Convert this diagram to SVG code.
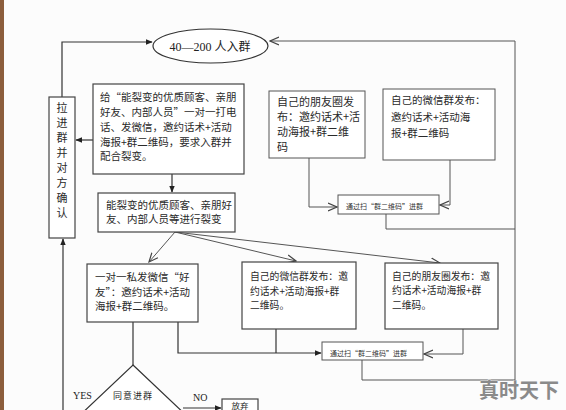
<svg xmlns="http://www.w3.org/2000/svg" width="566" height="410" viewBox="0 0 566 410">
<defs>
<marker id="fa" viewBox="0 0 10 10" refX="9" refY="5" markerWidth="7" markerHeight="7" orient="auto" markerUnits="userSpaceOnUse">
<path d="M0,1 L10,5 L0,9 z" fill="#222"/>
</marker>
<marker id="oa" viewBox="0 0 10 10" refX="9" refY="5" markerWidth="10" markerHeight="10" orient="auto" markerUnits="userSpaceOnUse">
<path d="M0,1 L9,5 L0,9" fill="none" stroke="#444" stroke-width="1.2"/>
</marker>
</defs>
<style>
.bx{fill:#fff;stroke:#444;stroke-width:1.2}
.bt{fill:#fff;stroke:#555;stroke-width:1}
.t{font-family:"Noto Sans CJK SC","Liberation Serif",serif;font-size:10.5px;fill:#2a2a2a}
.ts{font-family:"Noto Sans CJK SC","Liberation Serif",serif;font-size:7px;fill:#333}
.c{fill:none;stroke:#333;stroke-width:1.2}
.cl{fill:none;stroke:#555;stroke-width:1}
.lat{font-family:"Liberation Serif",serif;font-size:10px;fill:#222}
</style>
<rect x="0" y="0" width="566" height="410" fill="#fcfcfc"/>
<rect x="0" y="0" width="4" height="410" fill="#8c5e3c"/>

<g id="connectors">
<polyline class="c" points="62,97 62,42 152,42" marker-end="url(#fa)"/>
<polyline class="cl" points="362,360 362,380 515,380 515,41 270,41" marker-end="url(#oa)"/>
<polyline class="cl" points="386,214 386,229 515,229"/>
<line class="c" x1="93" y1="140" x2="76" y2="140" marker-end="url(#fa)"/>
<line class="c" x1="63" y1="410" x2="63" y2="239" marker-end="url(#fa)"/>
<line class="c" x1="172" y1="174" x2="172" y2="192" marker-end="url(#fa)"/>
<line class="cl" x1="175" y1="232" x2="149" y2="262" marker-end="url(#oa)"/>
<line class="cl" x1="175" y1="232" x2="296" y2="261" marker-end="url(#oa)"/>
<line class="cl" x1="175" y1="232" x2="440" y2="263" marker-end="url(#oa)"/>
<polyline class="cl" points="309,158 309,207 337,207" marker-end="url(#oa)"/>
<polyline class="cl" points="450,160 450,205 440,205" marker-end="url(#oa)"/>
<line class="c" x1="133" y1="322" x2="133" y2="365"/>
<polyline class="c" points="178,322 178,353 321,353" marker-end="url(#fa)"/>
<line class="c" x1="276" y1="329" x2="276" y2="353"/>
<polyline class="cl" points="463,329 463,354 424,354" marker-end="url(#oa)"/>
<line class="c" x1="183" y1="408" x2="221" y2="408" marker-end="url(#fa)"/>
</g>

<g id="n-ellipse">
<ellipse cx="210.5" cy="46" rx="57.5" ry="17" fill="#fff" stroke="#333" stroke-width="1.2"/>
<text x="210" y="51" text-anchor="middle" style="font-family:'Liberation Serif','Noto Sans CJK SC',serif;font-size:12px;fill:#222">40—200 人入群</text>
</g>

<g id="n-left">
<rect class="bx" x="49" y="97" width="26" height="141"/>
<g class="t" text-anchor="middle" style="font-size:11px">
<text x="62" y="112">拉</text><text x="62" y="127">进</text><text x="62" y="142">群</text><text x="62" y="157">并</text><text x="62" y="172">对</text><text x="62" y="187">方</text><text x="62" y="202">确</text><text x="62" y="217">认</text>
</g>
</g>

<g id="n-box1">
<rect class="bx" x="93" y="84" width="151" height="90"/>
<text class="t" x="100" y="101">给“能裂变的优质顾客、亲朋</text>
<text class="t" x="100" y="116">好友、内部人员”一对一打电</text>
<text class="t" x="100" y="131">话、发微信，邀约话术+活动</text>
<text class="t" x="100" y="146">海报+群二维码，要求入群并</text>
<text class="t" x="100" y="160">配合裂变。</text>
</g>

<g id="n-box2">
<rect class="bx" x="98" y="193" width="137" height="39"/>
<text class="t" x="106" y="209">能裂变的优质顾客、亲朋好</text>
<text class="t" x="106" y="223">友、内部人员等进行裂变</text>
</g>

<g id="n-t1">
<rect class="bt" x="269" y="91" width="96" height="67"/>
<text class="t" x="277" y="106" style="font-size:11px">自己的朋友圈发</text>
<text class="t" x="277" y="121" style="font-size:11px">布：邀约话术+活</text>
<text class="t" x="277" y="136" style="font-size:11px">动海报+群二维</text>
<text class="t" x="277" y="151" style="font-size:11px">码</text>
</g>

<g id="n-t2">
<rect class="bt" x="383" y="89" width="112" height="71"/>
<text class="t" x="391" y="104">自己的微信群发布：</text>
<text class="t" x="391" y="121">邀约话术+活动海</text>
<text class="t" x="391" y="137">报+群二维码</text>
</g>

<g id="n-scan1">
<rect class="bt" x="338" y="195" width="101" height="19"/>
<text class="ts" x="346" y="208.5">通过扫“群二维码”进群</text>
</g>

<g id="n-box3a">
<rect class="bx" x="87" y="264" width="111" height="58"/>
<text class="t" x="95" y="281">一对一私发微信“好</text>
<text class="t" x="95" y="296">友”：邀约话术+活动</text>
<text class="t" x="95" y="310">海报+群二维码。</text>
</g>

<g id="n-box3b">
<rect class="bx" x="242" y="262" width="114" height="67"/>
<text class="t" x="250" y="280" style="font-size:9.8px">自己的微信群发布：邀</text>
<text class="t" x="250" y="295" style="font-size:9.8px">约话术+活动海报+群</text>
<text class="t" x="250" y="309" style="font-size:9.8px">二维码。</text>
</g>

<g id="n-box3c">
<rect class="bx" x="385" y="263" width="113" height="66"/>
<text class="t" x="392" y="280" style="font-size:9.8px">自己的朋友圈发布：邀</text>
<text class="t" x="392" y="294" style="font-size:9.8px">约话术+活动海报+群</text>
<text class="t" x="392" y="309" style="font-size:9.8px">二维码。</text>
</g>

<g id="n-scan2">
<rect class="bt" x="322" y="342" width="101" height="18"/>
<text class="ts" x="330" y="355.5">通过扫“群二维码”进群</text>
</g>

<g id="n-diamond">
<polygon points="133,365 189,418 133,470 77,418" fill="#fff" stroke="#333" stroke-width="1.2"/>
<text class="t" x="133" y="398.5" text-anchor="middle" style="font-size:9px;letter-spacing:1px">同意进群</text>
</g>

<g id="n-giveup">
<rect class="bx" x="222" y="399" width="36" height="20"/>
<text class="t" x="240" y="409" text-anchor="middle" style="font-size:8.5px">放弃</text>
</g>

<text class="lat" x="73" y="399">YES</text>
<text class="lat" x="193" y="401">NO</text>
<text x="519" y="398" text-anchor="middle" style="font-family:'Noto Sans CJK SC',sans-serif;font-size:20px;font-weight:bold;fill:#8a8a8a;stroke:#fff;stroke-width:0.6;paint-order:stroke">真时天下</text>
</svg>
